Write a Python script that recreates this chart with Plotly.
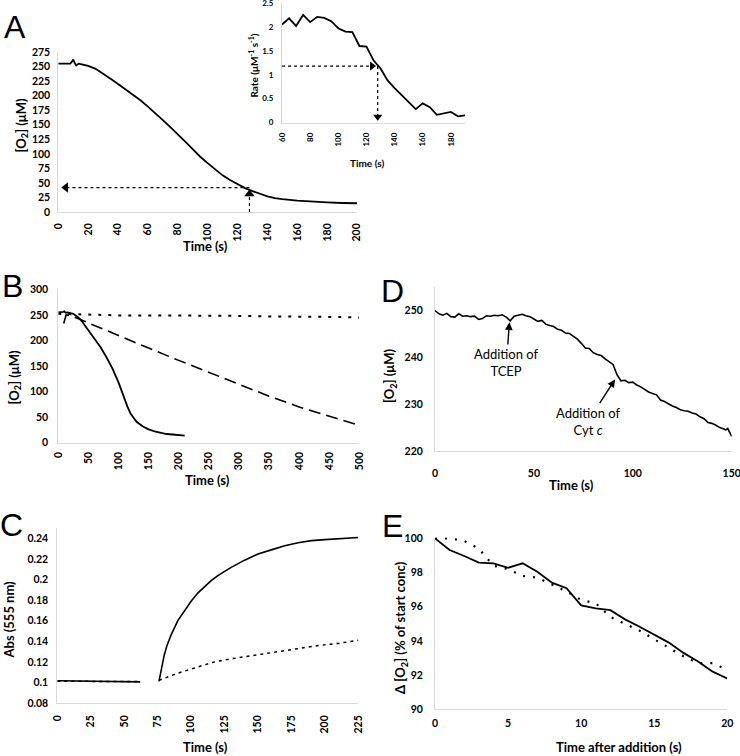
import plotly.graph_objects as go

# ---------------- DATA ----------------
# Panel A main: O2 consumption
A_t = [0, 2, 4, 6, 8, 9, 10, 11, 12, 13, 14, 15, 17, 20, 25, 30, 35, 40, 45, 50, 55, 60, 65, 70, 75,
       80, 85, 90, 95, 100, 105, 110, 115, 120, 125, 130, 135, 140, 145, 150, 160, 170, 180, 190, 200]
A_o2 = [255, 255, 255, 255, 255, 258, 262, 256, 252, 254, 255, 254, 253, 251, 246, 238, 229, 220, 211, 201, 192, 181, 170, 158, 146,
        134, 121, 108, 95, 84, 73, 63, 55, 48, 41, 36, 31, 27, 24, 22, 19.5, 17.5, 16.5, 15.5, 15]
A_arrow_t = 128
A_arrow_o2 = 42
A_xticks = [0, 20, 40, 60, 80, 100, 120, 140, 160, 180, 200]

# Panel A inset: rate
R_t = [60, 65, 70, 75, 80, 85, 90, 95, 100, 105, 110, 115, 120, 125, 130, 135, 140, 145, 150, 155, 160, 165, 170, 175, 180, 185, 190]
R_rate = [2.05, 2.18, 2.02, 2.25, 2.10, 2.21, 2.19, 2.12, 1.97, 1.90, 1.89, 1.60, 1.59, 1.30, 1.13, 0.88, 0.72, 0.58, 0.43, 0.28,
          0.40, 0.32, 0.16, 0.19, 0.22, 0.13, 0.15]
R_arrow_t = 128
R_arrow_rate = 1.18
R_xticks = [60, 80, 100, 120, 140, 160, 180]

# Panel B
B_solid_t = [0, 5, 8, 10, 12, 15, 20, 25, 30, 35, 40, 50, 60, 70, 80, 90, 100, 105, 110, 115, 120, 125, 130, 140, 150, 160, 170, 180, 190, 200, 210]
B_solid = [255, 255, 256, 257, 254, 255, 254, 252, 248, 243, 236, 220, 204, 187, 167, 145, 118, 101, 85, 70, 57, 48, 41, 32, 26, 22, 19, 17, 16, 15, 14]
B_dash_t = [9, 13, 20, 50, 100, 150, 200, 250, 300, 350, 400, 450, 500]
B_dash = [233, 250, 249, 234, 209, 185, 161, 138, 114, 91, 70, 52, 34]
B_dot_t = [0, 50, 100, 150, 200, 250, 300, 350, 400, 450, 500]
B_dot = [252, 250, 249, 249, 249, 248, 248, 247, 247, 246, 245]
B_xticks = [0, 50, 100, 150, 200, 250, 300, 350, 400, 450, 500]

# Panel C
C_solid_t = [0, 20, 40, 62, None, 76, 77, 78, 80, 82, 85, 90, 95, 100, 105, 110, 115, 120, 125, 130, 140, 150, 160, 170, 180, 190, 200, 210, 225]
C_solid = [0.1017, 0.1013, 0.1010, 0.1006, None, 0.101, 0.108, 0.117, 0.127, 0.136, 0.146, 0.160, 0.170, 0.179, 0.187, 0.193, 0.199,
           0.204, 0.208, 0.212, 0.219, 0.225, 0.229, 0.233, 0.236, 0.238, 0.239, 0.240, 0.241]
C_dot_t = [0, 30, 62, None, 76, 90, 100, 110, 116, 125, 140, 156, 175, 194, 210, 225]
C_dot = [0.1012, 0.1010, 0.1008, None, 0.102, 0.109, 0.113, 0.117, 0.1195, 0.122, 0.125, 0.1286, 0.132, 0.1357, 0.138, 0.141]
C_xticks = [0, 25, 50, 75, 100, 125, 150, 175, 200, 225]
C_tickvals = [0.08, 0.10, 0.12, 0.14, 0.16, 0.18, 0.20, 0.22, 0.24]
C_ticktext = ["0.08", "0.1", "0.12", "0.14", "0.16", "0.18", "0.2", "0.22", "0.24"]

# Panel D
D_t = [0, 2, 4, 6, 8, 10, 12, 14, 16, 18, 20, 22, 24, 26, 28, 30, 32, 34, 36, 38, 40, 42, 44, 46, 48,
       50, 52, 54, 56, 58, 60, 62, 64, 66, 68, 70, 72, 74, 76, 78, 80, 82, 84, 86, 88, 90, 92, 94, 96, 98,
       100, 102, 104, 106, 108, 110, 112, 114, 116, 118, 120, 122, 124, 126, 128, 130, 132, 134, 136, 138,
       140, 142, 144, 146, 147, 148, 149, 150]
D_o2 = [250.0, 249.3, 249.0, 249.4, 248.7, 248.6, 249.3, 248.8, 248.9, 248.7, 248.8, 248.1, 248.3, 248.9, 248.8, 249.0, 248.9, 249.1, 248.6, 247.8,
        248.8, 249.0, 249.2, 248.9, 248.7, 248.2, 247.7, 247.9, 247.1, 246.8, 246.6, 246.0, 245.8, 245.2, 245.1, 244.5, 243.9, 243.0, 242.0, 241.9,
        241.0, 240.6, 240.4, 239.7, 239.1, 238.5, 236.3, 235.0, 235.1, 234.6, 234.7, 234.1, 233.7, 233.2, 232.6, 232.3, 232.0, 230.9, 230.6, 230.1,
        229.6, 229.3, 228.8, 228.6, 228.5, 228.1, 227.9, 227.3, 226.9, 226.1, 225.9, 225.5, 225.0, 224.7, 224.5, 224.8, 224.0, 223.1]
D_xticks = [0, 50, 100, 150]
D_yticks = [220, 230, 240, 250]
D_tcep = (37.6, 247.5)
D_cytc = (91.0, 235.3)

# Panel E
E_t = list(range(0, 21))
E_solid = [100, 99.32, 98.97, 98.58, 98.54, 98.28, 98.54, 98.05, 97.41, 97.08, 96.08, 95.9, 95.8, 95.26, 94.83, 94.39, 93.9, 93.3, 92.8, 92.2, 91.8]
E_dot = [100, 100, 99.85, 99.4, 98.4, 98.2, 97.8, 97.7, 97.3, 96.9, 96.4, 96.2, 95.4, 95.0, 94.6, 94.1, 93.6, 93.1, 92.7, 92.7, 92.3]
E_yticks = [90, 92, 94, 96, 98, 100]

# ---------------- FIGURE ----------------
W, H = 740, 756
def px_x(a, b):
    return [a / W, b / W]
def px_y(top, bottom):
    return [1 - bottom / H, 1 - top / H]

FONT = "Lato, 'Open Sans', sans-serif"
BLACK = "black"

fig = go.Figure()

def line(x, y, ax, dash="solid", width=1.8):
    fig.add_trace(go.Scatter(x=x, y=y, mode="lines", xaxis="x" + ax, yaxis="y" + ax,
                             line=dict(color=BLACK, width=width, dash=dash),
                             connectgaps=False, showlegend=False, hoverinfo="skip"))

def marker(x, y, ax, symbol, size=9):
    fig.add_trace(go.Scatter(x=[x], y=[y], mode="markers", xaxis="x" + ax, yaxis="y" + ax,
                             marker=dict(symbol=symbol, size=size, color=BLACK),
                             showlegend=False, hoverinfo="skip", cliponaxis=False))

# A main
line(A_t, A_o2, "")
line([A_arrow_t, 5], [A_arrow_o2, A_arrow_o2], "", dash="dot", width=1.2)
marker(5, A_arrow_o2, "", "triangle-left")
line([A_arrow_t, A_arrow_t], [0, 32], "", dash="dot", width=1.2)
marker(A_arrow_t, 31, "", "triangle-up")
# inset
line(R_t, R_rate, "2")
line([60, 124], [R_arrow_rate, R_arrow_rate], "2", dash="dot", width=1.2)
marker(124, R_arrow_rate, "2", "triangle-right", size=8)
line([R_arrow_t, R_arrow_t], [R_arrow_rate, 0.15], "2", dash="dot", width=1.2)
marker(R_arrow_t, 0.12, "2", "triangle-down", size=8)
# B
line(B_dot_t, B_dot, "3", dash="3px,7px", width=2)
line(B_dash_t, B_dash, "3", dash="12px,6px", width=1.6)
line(B_solid_t, B_solid, "3")
# D
line(D_t, D_o2, "4", width=1.6)
# C
line(C_dot_t, C_dot, "5", dash="3px,4px", width=1.5)
line(C_solid_t, C_solid, "5", width=1.6)
# E
line(E_t, E_dot, "6", dash="2px,8px", width=2.2)
line(E_t, E_solid, "6")

tickfont = dict(family=FONT, size=10.5, color=BLACK, weight=700)
small_tickfont = dict(family=FONT, size=8, color=BLACK, weight=700)

def ax_style(**kw):
    d = dict(showline=True, linecolor="#d9d9d9", linewidth=1, showgrid=False, zeroline=False,
             ticks="outside", ticklen=5, tickcolor="rgba(0,0,0,0)", tickfont=tickfont,
             fixedrange=True, automargin=False, ticklabeloverflow="allow")
    d.update(kw)
    return d

layout = dict(
    width=W, height=H, margin=dict(l=0, r=0, t=0, b=0, autoexpand=False),
    paper_bgcolor="white", plot_bgcolor="rgba(0,0,0,0)", showlegend=False,
    # A main
    xaxis=ax_style(domain=px_x(58.3, 357), range=[0, 200], tickvals=A_xticks, tickangle=-90, anchor="y", ticklen=6),
    yaxis=ax_style(domain=px_y(52, 212), range=[0, 275], dtick=25, anchor="x", ticklen=5),
    # inset
    xaxis2=ax_style(domain=px_x(282, 465), range=[60, 190], tickvals=R_xticks, tickangle=-90,
                    tickfont=small_tickfont, anchor="y2", ticklen=6),
    yaxis2=ax_style(domain=px_y(3, 122.5), range=[0, 2.5], dtick=0.5, tickfont=small_tickfont, anchor="x2", ticklen=6),
    # B
    xaxis3=ax_style(domain=px_x(58.3, 359.3), range=[0, 500], tickvals=B_xticks, tickangle=-90, anchor="y3", ticklen=4),
    yaxis3=ax_style(domain=px_y(289.3, 442.7), range=[0, 300], dtick=50, anchor="x3", ticklen=7),
    # D
    xaxis4=ax_style(domain=px_x(435, 731.7), range=[0, 150], tickvals=D_xticks, anchor="y4", ticklen=12),
    yaxis4=ax_style(domain=px_y(286.7, 451), range=[220, 255.1], tickvals=D_yticks, anchor="x4", ticklen=9),
    # C
    xaxis5=ax_style(domain=px_x(57.3, 358.3), range=[0, 225], tickvals=C_xticks, tickangle=-90, anchor="y5", ticklen=7),
    yaxis5=ax_style(domain=px_y(528.3, 703), range=[0.08, 0.25], tickvals=C_tickvals, ticktext=C_ticktext, anchor="x5", ticklen=6),
    # E
    xaxis6=ax_style(domain=px_x(435, 727.3), range=[0, 20], dtick=5, anchor="y6", ticklen=4),
    yaxis6=ax_style(domain=px_y(537.5, 709.3), range=[90, 100.05], tickvals=E_yticks, anchor="x6", ticklen=9),
)
fig.update_layout(**layout)

annots = []
def txt(x, y, text, size=13, angle=0, bold=True, family=FONT):
    annots.append(dict(x=x / W, y=1 - y / H, xref="paper", yref="paper", text=text, showarrow=False,
                       textangle=angle, xanchor="center", yanchor="middle",
                       font=dict(family=family, size=size, color=BLACK, weight=700 if bold else 400)))

# panel letters
for lx, ly, lt in [(15, 27, "A"), (12, 286, "B"), (11, 525, "C"), (392, 291, "D"), (392, 526, "E")]:
    txt(lx, ly, lt, size=32, bold=False, family="Liberation Sans, Arial, sans-serif")

# axis titles
txt(205, 246, "Time (s)")
txt(21.5, 126, "[O<sub>2</sub>] (μM)", angle=-90)
txt(367, 163, "Time (s)", size=10)
txt(252.5, 66, "Rate (μM<sup>-1</sup> s<sup>-1</sup>)", size=10, angle=-90)
txt(207.5, 480, "Time (s)")
txt(14.5, 378, "[O<sub>2</sub>] (μM)", angle=-90)
txt(571, 485, "Time (s)")
txt(390, 376, "[O<sub>2</sub>] (μM)", angle=-90)
txt(205, 747, "Time (s)")
txt(8.5, 620, "Abs (555 nm)", angle=-90)
txt(619, 747, "Time after addition (s)")
txt(401, 628, "Δ [O<sub>2</sub>] (% of start conc)", angle=-90)

# D arrows
annots.append(dict(x=D_tcep[0], y=D_tcep[1], xref="x4", yref="y4", axref="x4", ayref="y4",
                   ax=36.2, ay=238.9, text="Addition of<br>TCEP", showarrow=True,
                   arrowhead=2, arrowsize=1.1, arrowwidth=1.4, arrowcolor=BLACK,
                   font=dict(family=FONT, size=13, color=BLACK)))
annots.append(dict(x=D_cytc[0], y=D_cytc[1], xref="x4", yref="y4", axref="x4", ayref="y4",
                   ax=77.4, ay=226.4, text="Addition of<br>Cyt <i>c</i>", showarrow=True,
                   arrowhead=2, arrowsize=1.1, arrowwidth=1.4, arrowcolor=BLACK,
                   font=dict(family=FONT, size=13, color=BLACK)))

fig.update_layout(annotations=annots)
fig.write_html("out.html", config={"displayModeBar": False},
               post_script="document.body.style.margin='0';document.body.style.overflow='hidden';")
